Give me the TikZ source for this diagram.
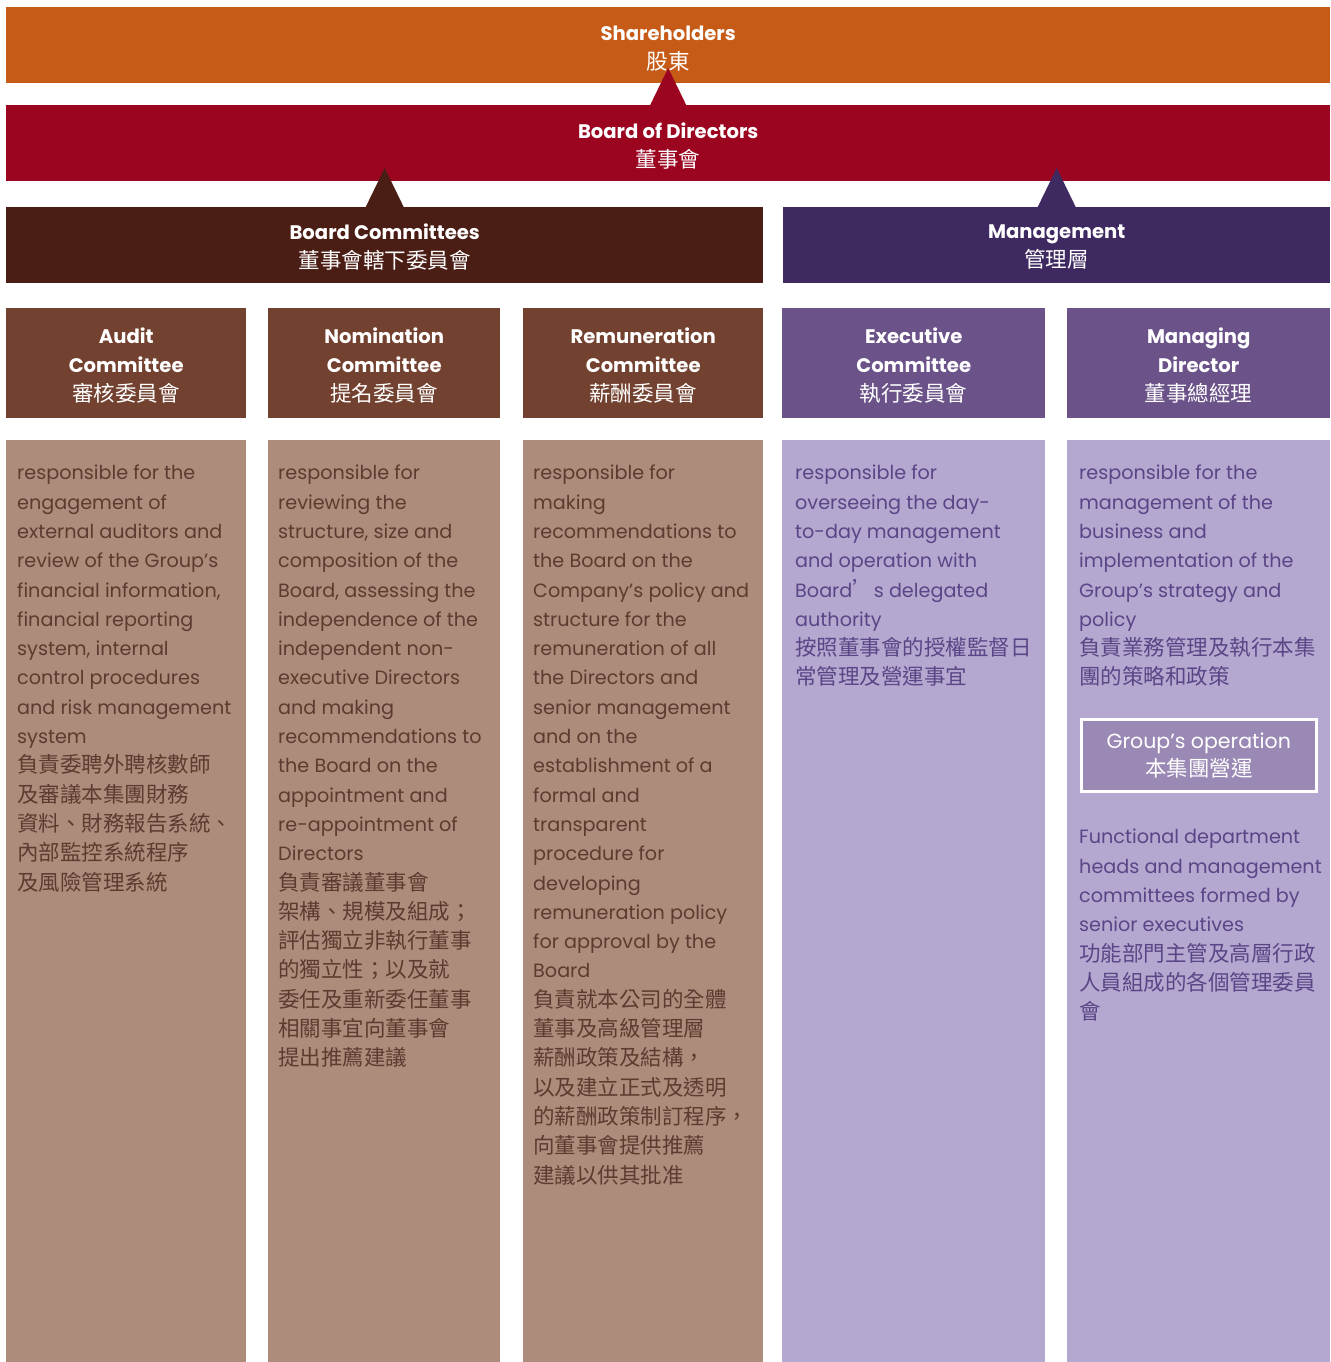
\documentclass[tikz,border=0pt]{standalone}
\usepackage{fontspec}
\setmainfont{Poppins}
\newfontfamily\cjk{Noto Sans CJK TC}
\usetikzlibrary{calc}

\definecolor{shareorange}{RGB}{198,91,23}
\definecolor{boardred}{RGB}{155,5,31}
\definecolor{bcbrown}{RGB}{75,30,21}
\definecolor{mgmtpurple}{RGB}{62,41,96}
\definecolor{combrown}{RGB}{115,65,48}
\definecolor{compurple}{RGB}{107,83,138}
\definecolor{descbrown}{RGB}{174,140,124}
\definecolor{descpurple}{RGB}{180,168,208}
\definecolor{groupbox}{RGB}{153,137,180}
\definecolor{txtbrown}{RGB}{92,60,48}
\definecolor{txtpurple}{RGB}{90,69,134}

\newcommand{\zh}[1]{{\cjk\mdseries\fontsize{21.5}{29.3}\selectfont #1}}

\tikzset{
  bar/.style={anchor=north west, inner sep=0pt, text=white, align=center,
    minimum height=76pt, font=\bfseries\fontsize{19.6}{29}\selectfont},
  combox/.style={anchor=north west, inner sep=0pt, text=white, align=center,
    minimum height=110pt, font=\bfseries\fontsize{19.6}{29}\selectfont},
  desccol/.style={anchor=north west, inner sep=0pt, minimum height=922pt},
  desctext/.style={anchor=north west, inner sep=0pt, align=left,
    font=\fontsize{19.2}{29.3}\selectfont},
}

\begin{document}
\begin{tikzpicture}[x=1pt, y=-1pt]
\useasboundingbox (0,0) rectangle (1330,1362);

% top bars
\node[bar, fill=shareorange, minimum width=1324pt] (share) at (6,7) {};
\node[bar, fill=boardred, minimum width=1324pt] (board) at (6,105) {};
\node[bar, fill=bcbrown, minimum width=757pt] (bcomm) at (6,207) {};
\node[bar, fill=mgmtpurple, minimum width=547pt] (mgmt) at (783,207) {};
\node[bar, anchor=center] (sharetxt) at ($(share.center)+(0,3)$) {Shareholders\\\zh{股東}};
\node[bar, anchor=center] (boardtxt) at ($(board.center)+(0,3)$) {Board of Directors\\\zh{董事會}};
\node[bar, anchor=center] (bcommtxt) at ($(bcomm.center)+(0,2)$) {Board Committees\\\zh{董事會轄下委員會}};
\node[bar, anchor=center] (mgmttxt) at ($(mgmt.center)+(0,2)$) {Management\\\zh{管理層}};

% pointers
\fill[boardred] ($(board.north)+(-18,0)$) -- ($(board.north)+(0,-37)$) -- ($(board.north)+(18,0)$) -- cycle;
\fill[bcbrown] ($(bcomm.north)+(-19,0)$) -- ($(bcomm.north)+(0,-39)$) -- ($(bcomm.north)+(19,0)$) -- cycle;
\fill[mgmtpurple] ($(mgmt.north)+(-19,0)$) -- ($(mgmt.north)+(0,-39)$) -- ($(mgmt.north)+(19,0)$) -- cycle;

% committees
\node[combox, fill=combrown, minimum width=240pt] (audit) at (6,308) {};
\node[combox, fill=combrown, minimum width=232pt] (nomin) at (268,308) {};
\node[combox, fill=combrown, minimum width=240pt] (remun) at (523,308) {};
\node[combox, fill=compurple, minimum width=263pt] (exec) at (782,308) {};
\node[combox, fill=compurple, minimum width=263pt] (mdir) at (1067,308) {};
\node[combox, anchor=center] (audittitle) at ($(audit.center)+(0,2)$) {Audit\\Committee\\\zh{審核委員會}};
\node[combox, anchor=center] (nomintitle) at ($(nomin.center)+(0,2)$) {Nomination\\Committee\\\zh{提名委員會}};
\node[combox, anchor=center] (remuntitle) at ($(remun.center)+(0,2)$) {Remuneration\\Committee\\\zh{薪酬委員會}};
\node[combox, anchor=center] (exectitle) at ($(exec.center)+(0,2)$) {Executive\\Committee\\\zh{執行委員會}};
\node[combox, anchor=center] (mdirtitle) at ($(mdir.center)+(0,2)$) {Managing\\Director\\\zh{董事總經理}};

% description columns
\node[desccol, fill=descbrown, minimum width=240pt] (auditcol) at (6,440) {};
\node[desccol, fill=descbrown, minimum width=232pt] (nomincol) at (268,440) {};
\node[desccol, fill=descbrown, minimum width=240pt] (remuncol) at (523,440) {};
\node[desccol, fill=descpurple, minimum width=263pt] (execcol) at (782,440) {};
\node[desccol, fill=descpurple, minimum width=263pt] (mdircol) at (1067,440) {};

\node[desctext, text=txtbrown] (audittxt) at (17,465) {responsible for the\\engagement of\\external auditors and\\review of the Group’s\\financial information,\\financial reporting\\system, internal\\control procedures\\and risk management\\system\\\zh{負責委聘外聘核數師}\\\zh{及審議本集團財務}\\\zh{資料、財務報告系統、}\\\zh{內部監控系統程序}\\\zh{及風險管理系統}};

\node[desctext, text=txtbrown] (nomintxt) at (278,465) {responsible for\\reviewing the\\structure, size and\\composition of the\\Board, assessing the\\independence of the\\independent non-\\executive Directors\\and making\\recommendations to\\the Board on the\\appointment and\\re-appointment of\\Directors\\\zh{負責審議董事會}\\\zh{架構、規模及組成；}\\\zh{評估獨立非執行董事}\\\zh{的獨立性；以及就}\\\zh{委任及重新委任董事}\\\zh{相關事宜向董事會}\\\zh{提出推薦建議}};

\node[desctext, text=txtbrown] (remuntxt) at (533,465) {responsible for\\making\\recommendations to\\the Board on the\\Company’s policy and\\structure for the\\remuneration of all\\the Directors and\\senior management\\and on the\\establishment of a\\formal and\\transparent\\procedure for\\developing\\remuneration policy\\for approval by the\\Board\\\zh{負責就本公司的全體}\\\zh{董事及高級管理層}\\\zh{薪酬政策及結構，}\\\zh{以及建立正式及透明}\\\zh{的薪酬政策制訂程序，}\\\zh{向董事會提供推薦}\\\zh{建議以供其批准}};

\node[desctext, text=txtpurple] (exectxt) at (795,465) {responsible for\\overseeing the day-\\to-day management\\and operation with\\Board\zh{’}s delegated\\authority\\\zh{按照董事會的授權監督日}\\\zh{常管理及營運事宜}};

\node[desctext, text=txtpurple] (mdirtxt) at (1079,465) {responsible for the\\management of the\\business and\\implementation of the\\Group’s strategy and\\policy\\\zh{負責業務管理及執行本集}\\\zh{團的策略和政策}};

\node[anchor=north west, inner sep=0pt, fill=groupbox, draw=white, line width=2.5pt,
  minimum width=235pt, minimum height=72pt, text=white, align=center,
  font=\fontsize{20.5}{28}\selectfont] (groupop) at (1080,718) {Group’s operation\\\zh{本集團營運}};

\node[desctext, text=txtpurple] (functxt) at (1079,829) {Functional department\\heads and management\\committees formed by\\senior executives\\\zh{功能部門主管及高層行政}\\\zh{人員組成的各個管理委員}\\\zh{會}};
\end{tikzpicture}
\end{document}
